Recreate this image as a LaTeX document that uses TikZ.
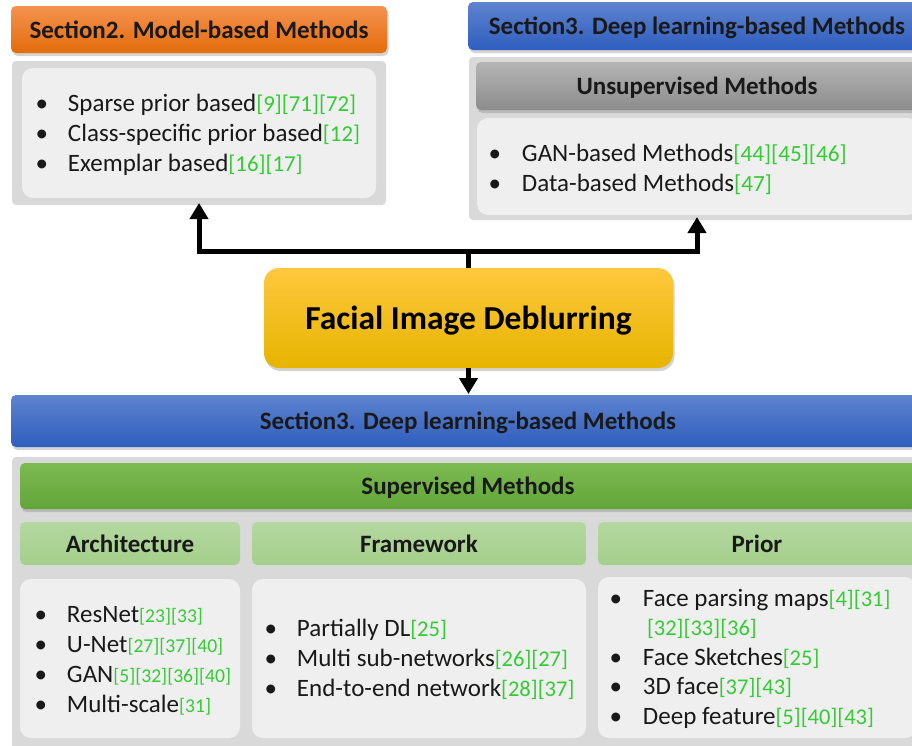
\documentclass[tikz,border=0pt]{standalone}
\usepackage{fontspec}
\setmainfont{Carlito}
\usetikzlibrary{shadows,arrows.meta,calc}

\definecolor{citegreen}{RGB}{51,204,51}
\definecolor{outergray}{RGB}{217,217,217}
\definecolor{innergray}{RGB}{239,239,239}

% citation references, set slightly smaller than the item text
\newcommand{\citesize}{22.5}
\newcommand{\cit}[1]{{\fontsize{\citesize}{30}\selectfont\textcolor{citegreen}{#1}}}
\newcommand{\hdrfont}{\fontsize{25}{29}\selectfont\bfseries}
\newcommand{\bul}{\textbullet &}

\tikzset{
  base/.style={anchor=north west, inner sep=0pt, outer sep=0pt, align=center},
  shade/.style={drop shadow={shadow xshift=1.5pt, shadow yshift=-3pt, opacity=0.35}},
  bar/.style={base, rounded corners=5pt, shade, font=\hdrfont, text=black!90, text depth=0pt},
  orangebar/.style={bar, top color={rgb,255:red,244;green,146;blue,80}, bottom color={rgb,255:red,228;green,108;blue,10}},
  bluebar/.style={bar, top color={rgb,255:red,94;green,131;blue,207}, bottom color={rgb,255:red,47;green,94;blue,190}},
  graybar/.style={bar, top color={rgb,255:red,180;green,180;blue,180}, bottom color={rgb,255:red,140;green,140;blue,140}},
  greenbar/.style={bar, top color={rgb,255:red,124;green,186;blue,82}, bottom color={rgb,255:red,98;green,165;blue,56}},
  lightbar/.style={base, rounded corners=5pt, font=\hdrfont, text=black!90, text depth=0pt,
    top color={rgb,255:red,180;green,216;blue,160}, bottom color={rgb,255:red,165;green,207;blue,140}},
  outerbox/.style={base, rounded corners=4pt, fill=outergray},
  innerbox/.style={base, rounded corners=11pt, fill=innergray},
  goldbox/.style={base, rounded corners=15pt, shade, font=\fontsize{33.5}{38}\selectfont\bfseries, text=black, text depth=0pt,
    top color={rgb,255:red,255;green,200;blue,62}, bottom color={rgb,255:red,230;green,180;blue,0}},
  blist/.style={anchor=base west, inner sep=0pt, outer sep=0pt, font=\fontsize{25}{#1}\selectfont, text=black!90},
  conn/.style={line width=5pt, line join=miter, -{Triangle[width=18pt,length=16pt]}},
  plain/.style={line width=5pt}
}

\begin{document}
\begin{tikzpicture}[x=1pt,y=-1pt]
\useasboundingbox (0,0) rectangle (912,745);
\clip (0,0) rectangle (912,745);

% ---- model-based methods (top left) ----
\node[orangebar, minimum width=376pt, minimum height=47pt] (sec2) at (11,6) {Section2. Model-based Methods};
\node[outerbox, minimum width=374pt, minimum height=144pt] (mbox) at (12,61) {};
\node[innerbox, minimum width=354pt, minimum height=130pt] (minner) at (22,68) {};
\node[blist=30pt] (mlist) at (35.5,111) {\renewcommand{\citesize}{22.8}%
\begin{tabular}[t]{@{}p{32.5pt}@{}l@{}}
  \bul Sparse prior based\cit{[9][71][72]}\\
  \bul Class-specific prior based\cit{[12]}\\
  \bul Exemplar based\cit{[16][17]}
\end{tabular}};

% ---- unsupervised deep learning methods (top right) ----
\node[bluebar, minimum width=458pt, minimum height=48pt] (sec3a) at (468,2) {Section3. Deep learning-based Methods};
\node[outerbox, minimum width=456pt, minimum height=163pt] (ubox) at (469,57) {};
\node[graybar, minimum width=442pt, minimum height=48pt] (unsup) at (476,62) {Unsupervised Methods};
\node[innerbox, minimum width=441pt, minimum height=97pt] (uinner) at (477,118) {};
\node[blist=30pt] (ulist) at (488.5,161) {\renewcommand{\citesize}{23.2}%
\begin{tabular}[t]{@{}p{33.5pt}@{}l@{}}
  \bul GAN-based Methods\cit{[44][45][46]}\\
  \bul Data-based Methods\cit{[47]}
\end{tabular}};

% ---- central topic ----
\node[goldbox, minimum width=409pt, minimum height=100pt] (fid) at (264,268) {Facial Image Deblurring};

% ---- supervised deep learning methods (bottom) ----
\node[bluebar, minimum width=914pt, minimum height=52pt] (sec3b) at (11,395) {Section3. Deep learning-based Methods};
\node[outerbox, minimum width=918pt, minimum height=303pt] (sbox) at (12,457) {};
\node[greenbar, minimum width=896pt, minimum height=46pt] (sup) at (20,463) {Supervised Methods};

\node[lightbar, minimum width=220pt, minimum height=43pt] (arch) at (20,522) {Architecture};
\node[lightbar, minimum width=334pt, minimum height=43pt] (frame) at (252,522) {Framework};
\node[lightbar, minimum width=318pt, minimum height=43pt] (prior) at (598,522) {Prior};

\node[innerbox, minimum width=220pt, minimum height=159pt] (archc) at (20,579) {};
\node[innerbox, minimum width=334pt, minimum height=159pt] (framec) at (252,579) {};
\node[innerbox, minimum width=318pt, minimum height=161pt] (priorc) at (598,577) {};

\node[blist=30.3pt] (alist) at (34.5,622) {\renewcommand{\citesize}{19.6}%
\begin{tabular}[t]{@{}p{32.5pt}@{}l@{}}
  \bul ResNet\cit{[23][33]}\\
  \bul U-Net\cit{[27][37][40]}\\
  \bul GAN\cit{[5][32][36][40]}\\
  \bul Multi-scale\cit{[31]}
\end{tabular}};
\node[blist=30.3pt] (flist) at (264.5,636) {\begin{tabular}[t]{@{}p{32.5pt}@{}l@{}}
  \bul Partially DL\cit{[25]}\\
  \bul Multi sub-networks\cit{[26][27]}\\
  \bul End-to-end network\cit{[28][37]}
\end{tabular}};
\node[blist=29.5pt] (plist) at (609.5,606) {\begin{tabular}[t]{@{}p{33.5pt}@{}l@{}}
  \bul Face parsing maps\cit{[4][31]}\\
  & \hspace{4pt}\cit{[32][33][36]}\\
  \bul Face Sketches\cit{[25]}\\
  \bul 3D face\cit{[37][43]}\\
  \bul Deep feature\cit{[5][40][43]}
\end{tabular}};

% ---- connectors ----
\coordinate (split) at (fid.north |- 0,251);
\draw[plain] (fid.north) -- (split);
\draw[conn, shorten >=-2pt] (split) -| (mbox.south);
\draw[conn, shorten >=-3pt] (split) -| (ubox.south);
\draw[conn, shorten >=1pt] (fid.south) -- (fid.south |- sec3b.north);
\end{tikzpicture}
\end{document}
